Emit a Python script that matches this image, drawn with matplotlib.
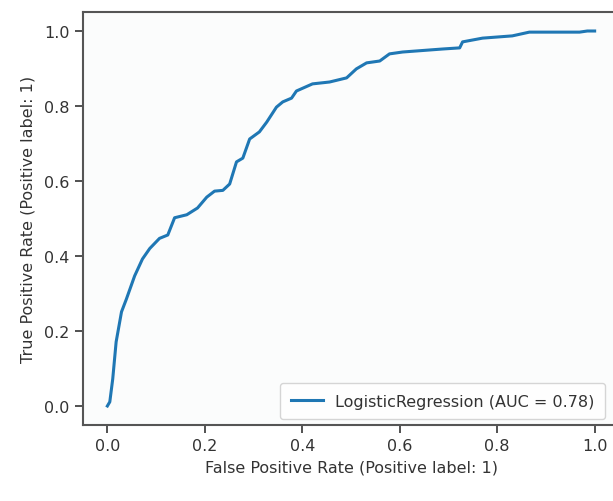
import matplotlib
matplotlib.use("Agg")
import matplotlib.pyplot as plt

# --- Data ---
fpr = [0.0, 0.005, 0.011, 0.018, 0.029, 0.039, 0.056, 0.072, 0.087, 0.107,
       0.124, 0.138, 0.163, 0.185, 0.204, 0.220, 0.237, 0.251, 0.265, 0.278,
       0.292, 0.312, 0.327, 0.347, 0.360, 0.378, 0.388, 0.421, 0.456, 0.491,
       0.511, 0.532, 0.559, 0.579, 0.606, 0.688, 0.723, 0.729, 0.770, 0.831,
       0.866, 0.969, 0.985, 1.0]
tpr = [0.0, 0.011, 0.072, 0.171, 0.251, 0.285, 0.347, 0.392, 0.420, 0.447,
       0.456, 0.502, 0.510, 0.528, 0.557, 0.573, 0.575, 0.592, 0.651, 0.661,
       0.712, 0.731, 0.757, 0.797, 0.811, 0.821, 0.840, 0.859, 0.864, 0.875,
       0.899, 0.915, 0.920, 0.939, 0.944, 0.952, 0.955, 0.971, 0.981, 0.987,
       0.997, 0.997, 1.0, 1.0]
auc_value = 0.78
model_name = "LogisticRegression"
x_label = "False Positive Rate (Positive label: 1)"
y_label = "True Positive Rate (Positive label: 1)"

plt.rcParams["font.family"] = ["DejaVu Sans"]

fig = plt.figure(figsize=(6.13, 5.02), dpi=100)
# axes run slightly past the right edge, the reference is cropped there
ax = fig.add_axes([0.1354, 0.1519, 0.8744, 0.8217])
ax.set_facecolor("#fbfcfc")

ax.plot(fpr, tpr, color="#1f77b4", linewidth=2.2,
        label=f"{model_name} (AUC = {auc_value:.2f})")

ax.set_xlim(-0.05, 1.05)
ax.set_ylim(-0.05, 1.05)
ax.set_xticks([0.0, 0.2, 0.4, 0.6, 0.8, 1.0])
ax.set_yticks([0.0, 0.2, 0.4, 0.6, 0.8, 1.0])
ax.tick_params(labelsize=11.5, length=6, width=1.2, colors="#333333")
ax.set_xlabel(x_label, fontsize=11.5, color="#333333", labelpad=5)
ax.set_ylabel(y_label, fontsize=11.5, color="#333333", labelpad=6)
for s in ax.spines.values():
    s.set_color("#555555")
    s.set_linewidth(1.5)

leg = ax.legend(loc="lower right", fontsize=11.5, handlelength=2.0,
                borderpad=0.65, bbox_to_anchor=(0.974, 0.014), borderaxespad=0)
for t in leg.get_texts():
    t.set_color("#333333")

fig.savefig("out.png", dpi=100)
